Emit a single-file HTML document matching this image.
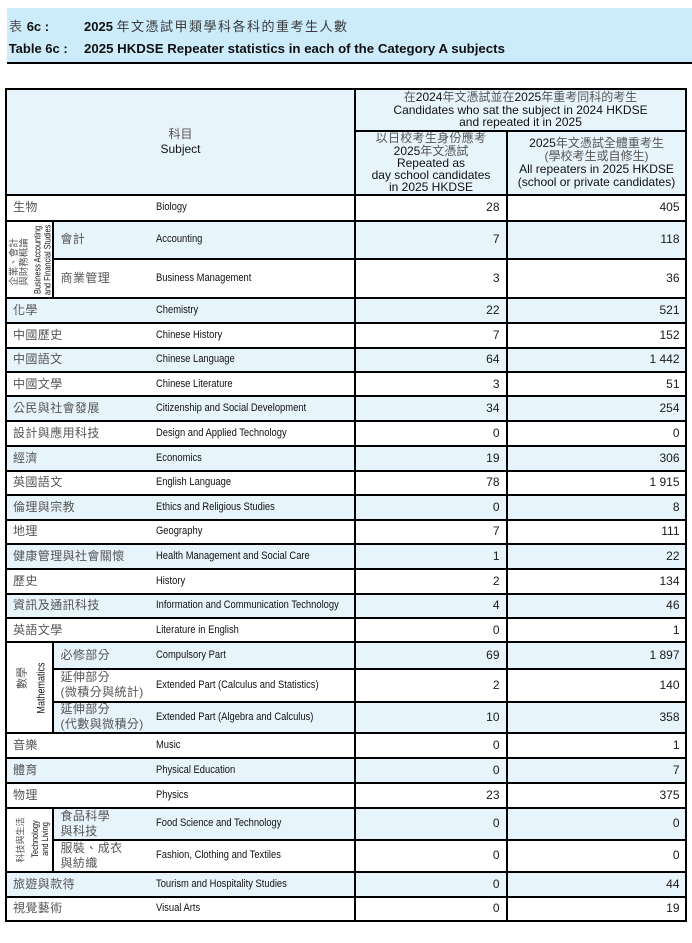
<!DOCTYPE html>
<html><head><meta charset="utf-8">
<style>
*{margin:0;padding:0;box-sizing:border-box}
body{width:692px;height:943px;background:#fff;position:relative;overflow:hidden;font-family:"Liberation Sans","Noto Sans CJK TC",sans-serif;color:#111}
.a{position:absolute;white-space:nowrap}
.h{position:absolute;background:#000;height:2px;left:5px;width:682px}
.v{position:absolute;background:#000;width:2px}
.b{position:absolute;background:#e8f4fc;left:7px;width:678px}
.g{color:#555}
.t1{font-size:13px;line-height:16px}
.tz{letter-spacing:1.5px;color:#3a3a3a}
.row{position:absolute;left:0;width:692px;line-height:15px}
.row>div{position:absolute;top:0;bottom:0;display:flex;align-items:center;white-space:nowrap}
.zh{left:13px;font-size:12px;color:#555;letter-spacing:.4px;font-family:"Liberation Sans","Noto Sans CJK TC",sans-serif}
.zs{left:60.5px;font-size:12px;color:#555;letter-spacing:.4px}
.en{left:155.5px;font-size:11.3px;color:#111;transform:scaleX(.83);transform-origin:0 50%}
.n1{right:192.5px;font-size:12px;color:#1a1a1a}
.n2{right:12.5px;font-size:12px;color:#1a1a1a}
.hd{position:absolute;display:flex;flex-direction:column;align-items:center;justify-content:center;text-align:center;font-size:12px;white-space:nowrap;color:#111}
.vl{position:absolute;transform:translate(-50%,-50%) rotate(-90deg);white-space:nowrap;text-align:center}
.nw{transform:scaleX(.82)}
</style></head><body>

<!-- title band -->
<div class="a" style="left:7px;top:8px;width:685px;height:54px;background:#ccecfc"></div>
<div class="a" style="left:7px;top:62px;width:685px;height:2px;background:#000"></div>
<div class="a t1" style="left:9px;top:19px"><span class="g">表</span></div>
<div class="a t1" style="left:26.7px;top:19px;font-weight:bold">6c :</div>
<div class="a t1" style="left:84px;top:19px"><b>2025</b> <span class="tz">年文憑試甲類學科各科的重考生人數</span></div>
<div class="a t1" style="left:8.7px;top:40.5px;font-weight:bold">Table 6c :</div>
<div class="a t1" style="left:84px;top:40.5px;font-weight:bold;font-size:13.25px">2025 HKDSE Repeater statistics in each of the Category A subjects</div>

<!-- backgrounds -->
<div class="b" style="top:89px;height:106.3px"></div>
<div class="b" style="top:220.5px;height:38.8px;left:53px;width:632px"></div>
<div class="b" style="top:298.3px;height:25px"></div>
<div class="b" style="top:347.5px;height:24.8px"></div>
<div class="b" style="top:396.3px;height:24.7px"></div>
<div class="b" style="top:446px;height:24.5px"></div>
<div class="b" style="top:495px;height:24.5px"></div>
<div class="b" style="top:544px;height:25px"></div>
<div class="b" style="top:593.7px;height:24.6px"></div>
<div class="b" style="top:642.3px;height:27px;left:53px;width:632px"></div>
<div class="b" style="top:701.7px;height:31.6px;left:53px;width:632px"></div>
<div class="b" style="top:758.3px;height:25px"></div>
<div class="b" style="top:807.7px;height:32.3px;left:53px;width:632px"></div>
<div class="b" style="top:871.7px;height:25px"></div>

<!-- header text -->
<div class="hd" style="left:7px;top:89px;width:347px;height:106px;line-height:15px"><div class="g">科目</div><div>Subject</div></div>
<div class="hd" style="left:355px;top:89px;width:331px;height:42px;line-height:12.8px"><div><span class="g">在</span>2024<span class="g">年文憑試並在</span>2025<span class="g">年重考同科的考生</span></div><div>Candidates who sat the subject in 2024 HKDSE</div><div>and repeated it in 2025</div></div>
<div class="hd" style="left:355px;top:131px;width:152px;height:64px;line-height:12.2px"><div class="g" style="letter-spacing:.3px">以日校考生身份應考</div><div>2025<span class="g">年文憑試</span></div><div>Repeated as</div><div>day school candidates</div><div>in 2025 HKDSE</div></div>
<div class="hd" style="left:507px;top:131px;width:179px;height:64px;line-height:12.8px"><div>2025<span class="g">年文憑試全體重考生</span></div><div class="g">(學校考生或自修生)</div><div>All repeaters in 2025 HKDSE</div><div>(school or private candidates)</div></div>

<!-- rows -->
<div class="row" style="top:195.3px;height:25.2px"><div class="zh">生物</div><div class="en">Biology</div><div class="n1">28</div><div class="n2">405</div></div>
<div class="row" style="top:220.5px;height:38.8px"><div class="zs">會計</div><div class="en">Accounting</div><div class="n1">7</div><div class="n2">118</div></div>
<div class="row" style="top:259.3px;height:39px"><div class="zs">商業管理</div><div class="en">Business Management</div><div class="n1">3</div><div class="n2">36</div></div>
<div class="row" style="top:298.3px;height:25px"><div class="zh">化學</div><div class="en">Chemistry</div><div class="n1">22</div><div class="n2">521</div></div>
<div class="row" style="top:323.3px;height:24.2px"><div class="zh">中國歷史</div><div class="en">Chinese History</div><div class="n1">7</div><div class="n2">152</div></div>
<div class="row" style="top:347.5px;height:24.8px"><div class="zh">中國語文</div><div class="en">Chinese Language</div><div class="n1">64</div><div class="n2">1 442</div></div>
<div class="row" style="top:372.3px;height:24px"><div class="zh">中國文學</div><div class="en">Chinese Literature</div><div class="n1">3</div><div class="n2">51</div></div>
<div class="row" style="top:396.3px;height:24.7px"><div class="zh">公民與社會發展</div><div class="en">Citizenship and Social Development</div><div class="n1">34</div><div class="n2">254</div></div>
<div class="row" style="top:421px;height:25px"><div class="zh">設計與應用科技</div><div class="en">Design and Applied Technology</div><div class="n1">0</div><div class="n2">0</div></div>
<div class="row" style="top:446px;height:24.5px"><div class="zh">經濟</div><div class="en">Economics</div><div class="n1">19</div><div class="n2">306</div></div>
<div class="row" style="top:470.5px;height:24.5px"><div class="zh">英國語文</div><div class="en">English Language</div><div class="n1">78</div><div class="n2">1 915</div></div>
<div class="row" style="top:495px;height:24.5px"><div class="zh">倫理與宗教</div><div class="en">Ethics and Religious Studies</div><div class="n1">0</div><div class="n2">8</div></div>
<div class="row" style="top:519.5px;height:24.5px"><div class="zh">地理</div><div class="en">Geography</div><div class="n1">7</div><div class="n2">111</div></div>
<div class="row" style="top:544px;height:25px"><div class="zh">健康管理與社會關懷</div><div class="en">Health Management and Social Care</div><div class="n1">1</div><div class="n2">22</div></div>
<div class="row" style="top:569px;height:24.7px"><div class="zh">歷史</div><div class="en">History</div><div class="n1">2</div><div class="n2">134</div></div>
<div class="row" style="top:593.7px;height:24.6px"><div class="zh">資訊及通訊科技</div><div class="en">Information and Communication Technology</div><div class="n1">4</div><div class="n2">46</div></div>
<div class="row" style="top:618.3px;height:24px"><div class="zh">英語文學</div><div class="en">Literature in English</div><div class="n1">0</div><div class="n2">1</div></div>
<div class="row" style="top:642.3px;height:27px"><div class="zs">必修部分</div><div class="en">Compulsory Part</div><div class="n1">69</div><div class="n2">1 897</div></div>
<div class="row" style="top:669.3px;height:32.4px"><div class="zs">延伸部分<br>(微積分與統計)</div><div class="en">Extended Part (Calculus and Statistics)</div><div class="n1">2</div><div class="n2">140</div></div>
<div class="row" style="top:701.7px;height:31.6px"><div class="zs">延伸部分<br>(代數與微積分)</div><div class="en">Extended Part (Algebra and Calculus)</div><div class="n1">10</div><div class="n2">358</div></div>
<div class="row" style="top:733.3px;height:25px"><div class="zh">音樂</div><div class="en">Music</div><div class="n1">0</div><div class="n2">1</div></div>
<div class="row" style="top:758.3px;height:25px"><div class="zh">體育</div><div class="en">Physical Education</div><div class="n1">0</div><div class="n2">7</div></div>
<div class="row" style="top:783.3px;height:24.4px"><div class="zh">物理</div><div class="en">Physics</div><div class="n1">23</div><div class="n2">375</div></div>
<div class="row" style="top:807.7px;height:32.3px"><div class="zs">食品科學<br>與科技</div><div class="en">Food Science and Technology</div><div class="n1">0</div><div class="n2">0</div></div>
<div class="row" style="top:840px;height:31.7px"><div class="zs">服裝、成衣<br>與紡織</div><div class="en">Fashion, Clothing and Textiles</div><div class="n1">0</div><div class="n2">0</div></div>
<div class="row" style="top:871.7px;height:25px"><div class="zh">旅遊與款待</div><div class="en">Tourism and Hospitality Studies</div><div class="n1">0</div><div class="n2">44</div></div>
<div class="row" style="top:896.7px;height:24.3px"><div class="zh">視覺藝術</div><div class="en">Visual Arts</div><div class="n1">0</div><div class="n2">19</div></div>

<!-- vertical group labels -->
<div class="vl g" style="left:19.5px;top:262px;font-size:9.5px;line-height:10px">企業、會計<br>與財務概論</div>
<div class="vl" style="left:42.5px;top:260px;font-size:9px;line-height:9.5px;color:#111"><div class="nw">Business Accounting</div><div class="nw">and Financial Studies</div></div>
<div class="vl g" style="left:23px;top:678px;font-size:11px;line-height:11px">數學</div>
<div class="vl" style="left:41.5px;top:688px;font-size:11px;line-height:11px;color:#111"><div class="nw">Mathematics</div></div>
<div class="vl g" style="left:21px;top:840px;font-size:9px;line-height:9px">科技與生活</div>
<div class="vl" style="left:40px;top:839px;font-size:9px;line-height:10px;color:#111"><div class="nw">Technology</div><div class="nw">and Living</div></div>

<!-- horizontal lines -->
<div class="h" style="top:88px"></div>
<div class="h" style="top:130px;left:354px;width:333px"></div>
<div class="h" style="top:194.3px"></div>
<div class="h" style="top:219.5px"></div>
<div class="h" style="top:258.3px;left:52px;width:635px"></div>
<div class="h" style="top:297.3px"></div>
<div class="h" style="top:322.3px"></div>
<div class="h" style="top:346.5px"></div>
<div class="h" style="top:371.3px"></div>
<div class="h" style="top:395.3px"></div>
<div class="h" style="top:420px"></div>
<div class="h" style="top:445px"></div>
<div class="h" style="top:469.5px"></div>
<div class="h" style="top:494px"></div>
<div class="h" style="top:518.5px"></div>
<div class="h" style="top:543px"></div>
<div class="h" style="top:568px"></div>
<div class="h" style="top:592.7px"></div>
<div class="h" style="top:617.3px"></div>
<div class="h" style="top:641.3px"></div>
<div class="h" style="top:668.3px;left:52px;width:635px"></div>
<div class="h" style="top:700.7px;left:52px;width:635px"></div>
<div class="h" style="top:732.3px"></div>
<div class="h" style="top:757.3px"></div>
<div class="h" style="top:782.3px"></div>
<div class="h" style="top:806.7px"></div>
<div class="h" style="top:839px;left:52px;width:635px"></div>
<div class="h" style="top:870.7px"></div>
<div class="h" style="top:895.7px"></div>
<div class="h" style="top:920px"></div>

<!-- vertical lines -->
<div class="v" style="left:5px;top:88px;height:834px"></div>
<div class="v" style="left:354.3px;top:88px;height:834px"></div>
<div class="v" style="left:506px;top:130px;height:792px"></div>
<div class="v" style="left:685px;top:88px;height:834px"></div>
<div class="v" style="left:52px;top:219.5px;height:79.8px"></div>
<div class="v" style="left:52px;top:641.3px;height:93px"></div>
<div class="v" style="left:52px;top:806.7px;height:66px"></div>

</body></html>
